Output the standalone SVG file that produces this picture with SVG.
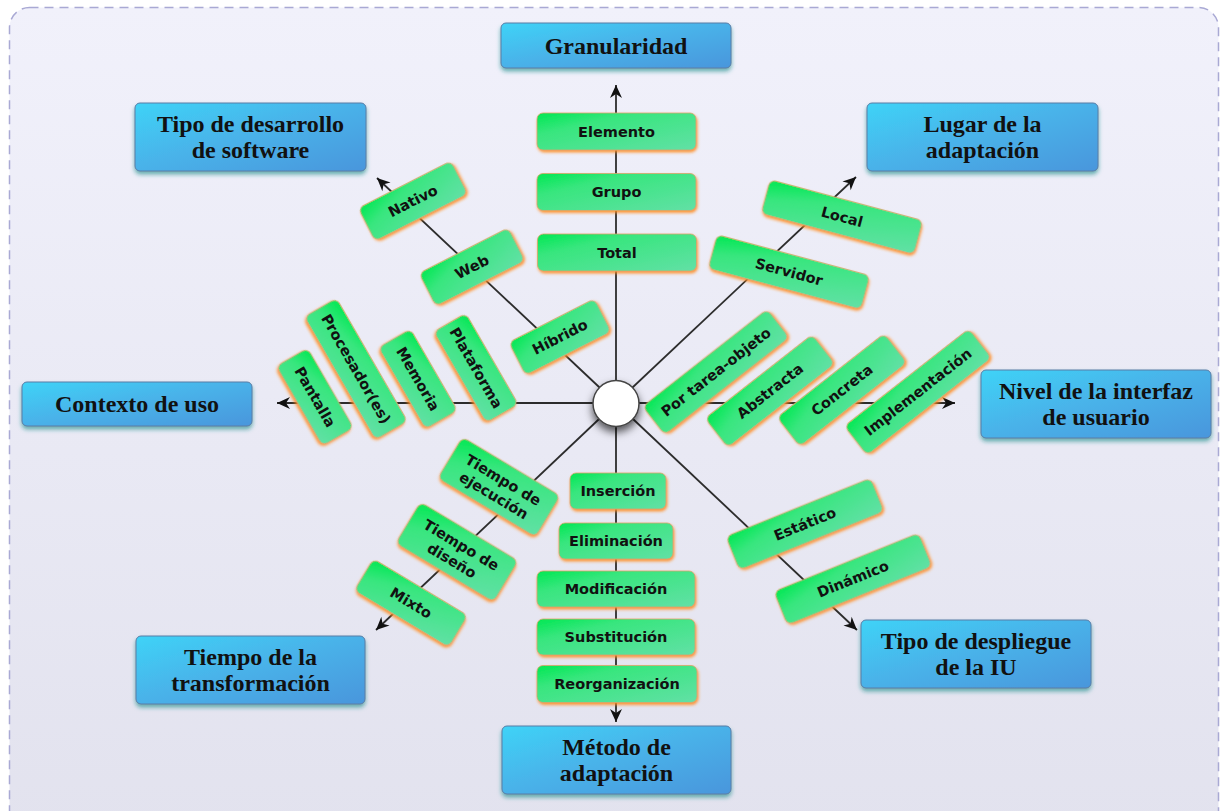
<svg xmlns="http://www.w3.org/2000/svg" width="1220" height="811" viewBox="0 0 1220 811">
  <defs>
    <linearGradient id="bg" x1="0" y1="0" x2="0" y2="1">
      <stop offset="0" stop-color="#f1f1fb"/>
      <stop offset="1" stop-color="#e2e2ee"/>
    </linearGradient>
    <linearGradient id="blueFill" x1="0" y1="0" x2="1" y2="1">
      <stop offset="0" stop-color="#3fd3f7"/>
      <stop offset="0.45" stop-color="#48b4ea"/>
      <stop offset="1" stop-color="#4a96dc"/>
    </linearGradient>
    <linearGradient id="greenFill" x1="0" y1="0" x2="1" y2="1">
      <stop offset="0" stop-color="#00e852"/>
      <stop offset="0.3" stop-color="#38e67e"/>
      <stop offset="1" stop-color="#62e0a6"/>
    </linearGradient>
    <filter id="blueShadow" x="-10%" y="-20%" width="120%" height="150%">
      <feDropShadow dx="0" dy="3" stdDeviation="2" flood-color="#1c8d8a" flood-opacity="0.65"/>
    </filter>
    <filter id="greenGlow" x="-20%" y="-40%" width="140%" height="180%">
      <feDropShadow dx="1" dy="2" stdDeviation="1.7" flood-color="#ff8a1c" flood-opacity="0.9"/>
    </filter>
    <filter id="hubShadow" x="-60%" y="-60%" width="220%" height="240%">
      <feDropShadow dx="0" dy="5" stdDeviation="4.5" flood-color="#000" flood-opacity="0.65"/>
    </filter>
    <marker id="arrow" markerWidth="16" markerHeight="14" refX="0" refY="0" viewBox="-14 -7 16 14" orient="auto" markerUnits="userSpaceOnUse">
      <path d="M0,0 L-13,-6 L-9,0 L-13,6 z" fill="#111"/>
    </marker>
    <style>
      .frame { fill: url(#bg); stroke: #a9a9d4; stroke-width: 1.5; stroke-dasharray: 9 6; }
      .cat rect { fill: url(#blueFill); stroke: #5a7ca6; stroke-width: 1; filter: url(#blueShadow); }
      .cat text { font-family: "Liberation Serif", "Times New Roman", serif; font-weight: bold; font-size: 24px; fill: #111; text-anchor: middle; }
      .opt rect { fill: url(#greenFill); stroke: #d9a46a; stroke-width: 0.8; filter: url(#greenGlow); }
      .opt text { font-family: "DejaVu Sans", "Liberation Sans", sans-serif; font-weight: bold; font-size: 14.5px; fill: #111; text-anchor: middle; }
      .axis { stroke: #2c2c2c; stroke-width: 1.8; fill: none; marker-end: url(#arrow); }
    </style>
  </defs>

  <!-- canvas frame -->
  <rect class="frame" x="9.5" y="7.5" width="1209" height="830" rx="20"/>

  <!-- axes radiating from the hub -->
  <g id="connectors">
    <line class="axis" x1="616" y1="403" x2="616" y2="85"/>
    <line class="axis" x1="616" y1="403" x2="616" y2="722"/>
    <line class="axis" x1="616" y1="403" x2="277" y2="403"/>
    <line class="axis" x1="616" y1="403" x2="955" y2="403"/>
    <line class="axis" x1="616" y1="403" x2="377" y2="178"/>
    <line class="axis" x1="616" y1="403" x2="856" y2="177"/>
    <line class="axis" x1="616" y1="403" x2="376" y2="630"/>
    <line class="axis" x1="616" y1="403" x2="857" y2="630"/>
  </g>

  <!-- category boxes -->
  <g id="granularidad" class="cat">
    <rect x="501" y="23" width="230" height="45" rx="5"/>
    <text x="616" y="53.5">Granularidad</text>
  </g>
  <g id="tipo-desarrollo" class="cat">
    <rect x="135" y="103" width="231" height="68" rx="5"/>
    <text x="250.5" y="132">Tipo de desarrollo</text>
    <text x="250.5" y="158">de software</text>
  </g>
  <g id="lugar-adaptacion" class="cat">
    <rect x="867" y="103" width="231" height="68" rx="5"/>
    <text x="982.5" y="132">Lugar de la</text>
    <text x="982.5" y="158">adaptación</text>
  </g>
  <g id="contexto-uso" class="cat">
    <rect x="22" y="382" width="230" height="44" rx="5"/>
    <text x="137" y="412">Contexto de uso</text>
  </g>
  <g id="nivel-interfaz" class="cat">
    <rect x="981" y="370" width="230" height="68" rx="5"/>
    <text x="1096" y="399">Nivel de la interfaz</text>
    <text x="1096" y="425">de usuario</text>
  </g>
  <g id="tiempo-transformacion" class="cat">
    <rect x="136" y="636" width="229" height="68" rx="5"/>
    <text x="250.5" y="665">Tiempo de la</text>
    <text x="250.5" y="691">transformación</text>
  </g>
  <g id="tipo-despliegue" class="cat">
    <rect x="861" y="620" width="230" height="68" rx="5"/>
    <text x="976" y="649">Tipo de despliegue</text>
    <text x="976" y="675">de la IU</text>
  </g>
  <g id="metodo-adaptacion" class="cat">
    <rect x="502" y="726" width="229" height="68" rx="5"/>
    <text x="616.5" y="755">Método de</text>
    <text x="616.5" y="781">adaptación</text>
  </g>

  <!-- granularity options -->
  <g id="elemento" class="opt" transform="translate(616.5,131.5)">
    <rect x="-79.5" y="-18.5" width="159" height="37" rx="6"/>
    <text y="5">Elemento</text>
  </g>
  <g id="grupo" class="opt" transform="translate(616.5,192)">
    <rect x="-79.5" y="-18.5" width="159" height="37" rx="6"/>
    <text y="5">Grupo</text>
  </g>
  <g id="total" class="opt" transform="translate(617,252.5)">
    <rect x="-79.5" y="-18.5" width="159" height="37" rx="6"/>
    <text y="5">Total</text>
  </g>

  <!-- adaptation method options -->
  <g id="insercion" class="opt" transform="translate(618,491)">
    <rect x="-48" y="-18" width="96" height="36" rx="6"/>
    <text y="5">Inserción</text>
  </g>
  <g id="eliminacion" class="opt" transform="translate(616,541)">
    <rect x="-57" y="-18" width="114" height="36" rx="6"/>
    <text y="5">Eliminación</text>
  </g>
  <g id="modificacion" class="opt" transform="translate(616,589)">
    <rect x="-79" y="-18" width="158" height="36" rx="6"/>
    <text y="5">Modificación</text>
  </g>
  <g id="substitucion" class="opt" transform="translate(616,637)">
    <rect x="-79" y="-18" width="158" height="36" rx="6"/>
    <text y="5">Substitución</text>
  </g>
  <g id="reorganizacion" class="opt" transform="translate(617,684)">
    <rect x="-80" y="-18.5" width="160" height="37" rx="6"/>
    <text y="5">Reorganización</text>
  </g>

  <!-- software development type options -->
  <g id="nativo" class="opt" transform="translate(413,201) rotate(-27)">
    <rect x="-52" y="-18.5" width="104" height="37" rx="6"/>
    <text y="5">Nativo</text>
  </g>
  <g id="web" class="opt" transform="translate(472,267) rotate(-27)">
    <rect x="-50" y="-18.5" width="100" height="37" rx="6"/>
    <text y="5">Web</text>
  </g>
  <g id="hibrido" class="opt" transform="translate(560,337) rotate(-27)">
    <rect x="-48" y="-18.5" width="96" height="37" rx="6"/>
    <text y="5">Híbrido</text>
  </g>

  <!-- context of use options -->
  <g id="plataforma" class="opt" transform="translate(476,368) rotate(60)">
    <rect x="-52.5" y="-18.5" width="105" height="37" rx="6"/>
    <text y="5">Plataforma</text>
  </g>
  <g id="memoria" class="opt" transform="translate(418,379) rotate(60)">
    <rect x="-47" y="-18.5" width="94" height="37" rx="6"/>
    <text y="5">Memoria</text>
  </g>
  <g id="procesadores" class="opt" transform="translate(356,369) rotate(60)">
    <rect x="-71" y="-18.5" width="142" height="37" rx="6"/>
    <text y="5">Procesador(es)</text>
  </g>
  <g id="pantalla" class="opt" transform="translate(315,397) rotate(60)">
    <rect x="-46" y="-18" width="92" height="36" rx="6"/>
    <text y="5">Pantalla</text>
  </g>

  <!-- adaptation place options -->
  <g id="local" class="opt" transform="translate(842,217) rotate(15)">
    <rect x="-79" y="-17.5" width="158" height="35" rx="6"/>
    <text y="5">Local</text>
  </g>
  <g id="servidor" class="opt" transform="translate(789,272) rotate(15)">
    <rect x="-79" y="-17.5" width="158" height="35" rx="6"/>
    <text y="5">Servidor</text>
  </g>

  <!-- user interface level options -->
  <g id="por-tarea-objeto" class="opt" transform="translate(716,372) rotate(-38)">
    <rect x="-79" y="-18" width="158" height="36" rx="6"/>
    <text y="5">Por tarea-objeto</text>
  </g>
  <g id="abstracta" class="opt" transform="translate(770,391) rotate(-38)">
    <rect x="-68" y="-18.5" width="136" height="37" rx="6"/>
    <text y="5">Abstracta</text>
  </g>
  <g id="concreta" class="opt" transform="translate(842,390) rotate(-38)">
    <rect x="-68" y="-18.5" width="136" height="37" rx="6"/>
    <text y="5">Concreta</text>
  </g>
  <g id="implementacion" class="opt" transform="translate(918,392) rotate(-38)">
    <rect x="-79" y="-18.5" width="158" height="37" rx="6"/>
    <text y="5">Implementación</text>
  </g>

  <!-- transformation time options -->
  <g id="tiempo-ejecucion" class="opt" transform="translate(499,487) rotate(31)">
    <rect x="-57" y="-24" width="114" height="48" rx="6"/>
    <text y="-3">Tiempo de</text>
    <text y="15">ejecución</text>
  </g>
  <g id="tiempo-diseno" class="opt" transform="translate(457,552) rotate(31)">
    <rect x="-57" y="-24" width="114" height="48" rx="6"/>
    <text y="-3">Tiempo de</text>
    <text y="15">diseño</text>
  </g>
  <g id="mixto" class="opt" transform="translate(411,603) rotate(31)">
    <rect x="-55" y="-18.5" width="110" height="37" rx="6"/>
    <text y="5">Mixto</text>
  </g>

  <!-- UI deployment type options -->
  <g id="estatico" class="opt" transform="translate(805,524) rotate(-22)">
    <rect x="-78" y="-18" width="156" height="36" rx="6"/>
    <text y="5">Estático</text>
  </g>
  <g id="dinamico" class="opt" transform="translate(853,579) rotate(-22)">
    <rect x="-78" y="-18" width="156" height="36" rx="6"/>
    <text y="5">Dinámico</text>
  </g>

  <!-- hub -->
  <g id="hub">
    <circle cx="616" cy="403.5" r="23" fill="#fff" stroke="#444" stroke-width="1.5" filter="url(#hubShadow)"/>
  </g>
</svg>
